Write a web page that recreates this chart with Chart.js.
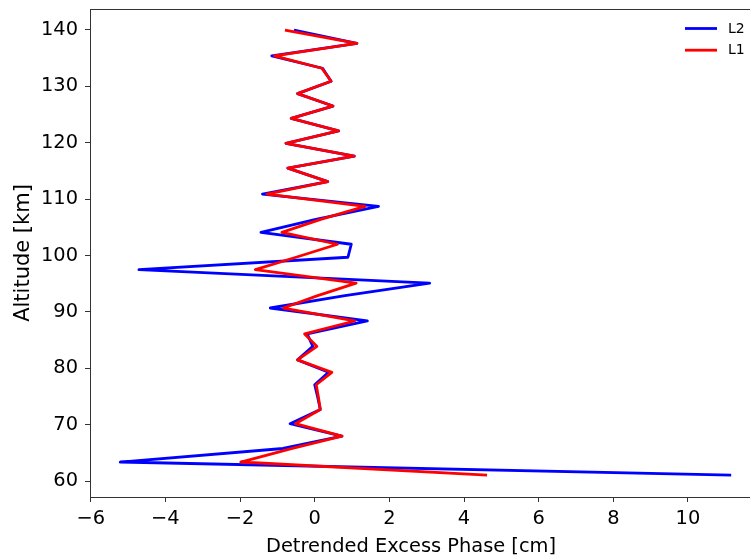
<!DOCTYPE html>
<html>
<head>
<meta charset="utf-8">
<script src="https://cdn.jsdelivr.net/npm/chart.js@4"></script>
<style>
  html, body { margin: 0; padding: 0; background: #fff; overflow: hidden; }
  #wrap { width: 750px; height: 558px; overflow: hidden; }
</style>
</head>
<body>
<div id="wrap"><canvas id="myChart" width="780" height="558"></canvas></div>
<script>
// altitudes shared by both profiles [km]
const altitude = [
  139.9, 137.6, 135.4, 133.2, 130.9, 128.7, 126.5, 124.3, 122.1, 119.9,
  117.6, 115.5, 113.1, 110.9, 108.7, 106.4, 104.1, 102.0, 99.7, 97.5,
  95.1, 92.9, 90.7, 88.4, 86.1, 83.9, 81.5, 79.3, 77.1, 74.9,
  72.7, 70.2, 68.0, 65.8, 63.4, 61.1
];

// detrended excess phase [cm]
const phaseL2 = [
  -0.52, 1.13, -1.15, 0.21, 0.44, -0.46, 0.49, -0.63, 0.64, -0.77,
  1.06, -0.72, 0.35, -1.40, 1.71, 0.03, -1.44, 0.98, 0.89, -4.71,
  3.08, 0.81, -1.19, 1.41, -0.20, -0.05, -0.46, 0.37, 0.00, 0.08,
  0.15, -0.66, 0.73, -0.85, -5.21, 11.12
];
const phaseL1 = [
  -0.76, 1.13, -1.08, 0.19, 0.44, -0.46, 0.49, -0.63, 0.64, -0.77,
  1.06, -0.72, 0.35, -1.28, 1.35, 0.16, -0.88, 0.61, -0.50, -1.59,
  1.11, 0.08, -0.84, 1.07, -0.27, 0.06, -0.46, 0.46, 0.04, 0.10,
  0.15, -0.52, 0.73, -0.60, -1.98, 4.58
];

const xTicks = [-6, -4, -2, 0, 2, 4, 6, 8, 10];
const yTicks = [60, 70, 80, 90, 100, 110, 120, 130, 140];

const toPoints = (xs) => xs.map((v, i) => ({ x: v, y: altitude[i] }));

Chart.defaults.font.family = 'DejaVu Sans';
Chart.defaults.color = '#000';

// matplotlib-style box, x label and legend drawn by hand
const extras = {
  id: 'extras',
  afterDraw(chart) {
    const { ctx, chartArea: a } = chart;
    ctx.save();
    ctx.strokeStyle = '#333';
    ctx.lineWidth = 1;
    ctx.strokeRect(a.left + 0.5, a.top + 0.5, a.right - a.left, a.bottom - a.top);

    ctx.fillStyle = '#000';
    ctx.font = '19.4px "DejaVu Sans"';
    ctx.textAlign = 'center';
    ctx.textBaseline = 'alphabetic';
    ctx.fillText('Detrended Excess Phase [cm]', 411, 551.5);

    ctx.font = '14px "DejaVu Sans"';
    ctx.textAlign = 'left';
    ctx.textBaseline = 'middle';
    chart.data.datasets.forEach((ds, i) => {
      const y = 28.5 + i * 21.7;
      ctx.strokeStyle = ds.borderColor;
      ctx.lineWidth = 2.8;
      ctx.beginPath();
      ctx.moveTo(685, y);
      ctx.lineTo(717, y);
      ctx.stroke();
      ctx.fillText(ds.label, 728, y + 0.5);
    });
    ctx.restore();
  }
};

const data = {
  datasets: [
    {
      label: 'L2',
      data: toPoints(phaseL2),
      borderColor: '#0000ff',
      backgroundColor: '#0000ff',
      order: 1
    },
    {
      label: 'L1',
      data: toPoints(phaseL1),
      borderColor: '#ff0000',
      backgroundColor: '#ff0000',
      order: 0
    }
  ]
};

const axisStyle = {
  grid: { drawOnChartArea: false, drawTicks: true, tickLength: 5, color: '#333' },
  border: { display: true, color: '#333', width: 1 }
};

const config = {
  type: 'scatter',
  data: data,
  options: {
    responsive: false,
    animation: false,
    showLine: true,
    elements: {
      point: { radius: 0, hoverRadius: 0 },
      line: {
        borderWidth: 2.8,
        tension: 0,
        borderJoinStyle: 'round',
        borderCapStyle: 'square'
      }
    },
    layout: { padding: { top: 9, left: 0, right: 20, bottom: 0 } },
    scales: {
      x: {
        ...axisStyle,
        min: -6.02,
        max: 11.93,
        afterBuildTicks: (axis) => { axis.ticks = xTicks.map(v => ({ value: v })); },
        afterFit: (axis) => {
          axis.height = 61;
          axis.paddingLeft = 0;
          axis.paddingRight = 0;
        },
        ticks: {
          font: { size: 19.4 },
          padding: 5,
          maxRotation: 0,
          callback: (v) => String(v).replace('-', '\u2212')
        },
        title: { display: false }
      },
      y: {
        ...axisStyle,
        min: 57.2,
        max: 143.7,
        afterBuildTicks: (axis) => { axis.ticks = yTicks.map(v => ({ value: v })); },
        afterFit: (axis) => {
          axis.width = 90;
          axis.paddingTop = 0;
          axis.paddingBottom = 0;
        },
        ticks: { font: { size: 19.4 }, padding: 7 },
        title: {
          display: true,
          text: 'Altitude [km]',
          font: { size: 21 },
          padding: { top: 11, bottom: 0 }
        }
      }
    },
    plugins: {
      tooltip: { enabled: false },
      legend: { display: false }
    }
  },
  plugins: [extras]
};

const myChart = new Chart(document.getElementById('myChart'), config);
</script>
</body>
</html>
